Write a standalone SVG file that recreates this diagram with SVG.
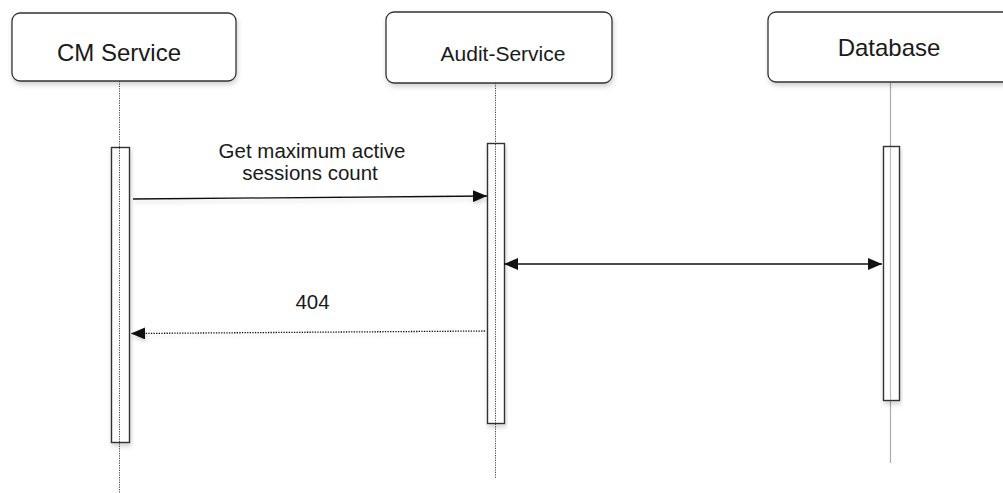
<svg xmlns="http://www.w3.org/2000/svg" width="1003" height="493" viewBox="0 0 1003 493">
<style>
.hdr{fill:#fff;stroke:#333;stroke-width:1.3}
.act{fill:#fff;stroke:#333;stroke-width:1.4}
.t{font-family:"Liberation Sans",Arial,sans-serif;fill:#1a1a1a;text-anchor:middle}
.ll{stroke:#444;stroke-width:1;stroke-dasharray:1.2 1.2;fill:none}
.msg{stroke:#111;stroke-width:1.3;fill:none}
</style>
<defs>
<filter id="sh" x="-20%" y="-20%" width="140%" height="150%">
<feDropShadow dx="1" dy="3" stdDeviation="2.5" flood-color="#000" flood-opacity="0.18"/>
</filter>
<filter id="shl" filterUnits="userSpaceOnUse" x="0" y="0" width="1003" height="493">
<feDropShadow dx="1" dy="3" stdDeviation="2" flood-color="#000" flood-opacity="0.16"/>
</filter>
<marker id="ah" viewBox="0 0 14 12" refX="14" refY="6" markerWidth="14" markerHeight="12" markerUnits="userSpaceOnUse" orient="auto-start-reverse">
<path d="M0,0 L14,6 L0,12 Z" fill="#111"/>
</marker>
</defs>
<g id="lifelines">
<line class="ll" x1="119.5" y1="81" x2="119.5" y2="493"/>
<line class="ll" x1="495.5" y1="83" x2="495.5" y2="478"/>
<line x1="890.5" y1="83" x2="890.5" y2="463" stroke="#aaa" stroke-width="1.2"/>
</g>
<g id="cm-service">
<rect class="hdr" x="12" y="13" width="224" height="68" rx="8" filter="url(#sh)"/>
<text class="t" x="119" y="61" font-size="24">CM Service</text>
</g>
<g id="audit-service">
<rect class="hdr" x="386" y="12" width="226" height="71" rx="8" filter="url(#sh)"/>
<text class="t" x="503" y="61" font-size="21">Audit-Service</text>
</g>
<g id="database">
<rect class="hdr" x="768" y="12" width="250" height="70" rx="8" filter="url(#sh)"/>
<text class="t" x="889" y="56" font-size="24">Database</text>
</g>
<g id="cm-activation">
<rect class="act" x="111.5" y="147.5" width="18" height="295" filter="url(#sh)"/>
<line class="ll" x1="119.5" y1="148" x2="119.5" y2="442"/>
</g>
<g id="audit-activation">
<rect class="act" x="487.5" y="143.5" width="17" height="280" filter="url(#sh)"/>
<line class="ll" x1="495.5" y1="144" x2="495.5" y2="423"/>
</g>
<g id="db-activation">
<rect class="act" x="883.5" y="146.5" width="16" height="254" filter="url(#sh)"/>
<line x1="890.5" y1="147" x2="890.5" y2="400" stroke="#bbb" stroke-width="1.2"/>
</g>
<g id="connectors">
<line class="msg" x1="133" y1="199" x2="487" y2="196" marker-end="url(#ah)" filter="url(#shl)"/>
<line class="msg" x1="504" y1="264" x2="882" y2="264" marker-start="url(#ah)" marker-end="url(#ah)"/>
<line class="msg" x1="485" y1="331" x2="131" y2="333.5" stroke-dasharray="1.3 1.3" stroke-width="1.2" marker-end="url(#ah)" filter="url(#shl)"/>
</g>
<g id="labels">
<text class="t" x="312" y="158" font-size="20.5">Get maximum active</text>
<text class="t" x="310" y="180" font-size="20.5">sessions count</text>
<text class="t" x="312.5" y="309" font-size="20.5">404</text>
</g>
</svg>
